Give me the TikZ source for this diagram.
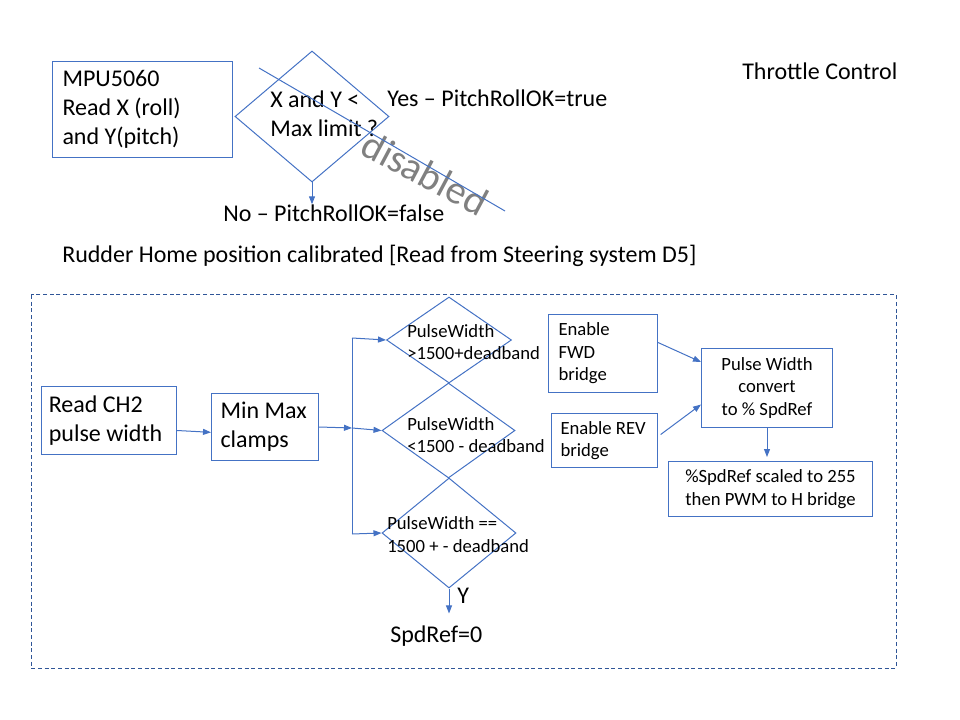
\documentclass[tikz,border=0pt]{standalone}
\usepackage{fontspec}
\setmainfont{Carlito}
\usetikzlibrary{shapes.geometric, arrows.meta}
\definecolor{boxblue}{RGB}{68,114,196}
\definecolor{dashblue}{RGB}{47,85,151}
\tikzstyle{process} = [rectangle, draw=boxblue, line width=0.75pt,
                       inner ysep=0pt, inner xsep=7.5pt, align=flush left,
                       anchor=north west, font=\fontsize{14}{16.8}\selectfont]
\tikzstyle{decision} = [diamond, draw=boxblue, line width=0.75pt, inner sep=0pt]
\tikzstyle{txt} = [inner sep=0pt, anchor=west, align=left,
                   font=\fontsize{18}{21.6}\selectfont]
\tikzstyle{bigtext} = [font=\fontsize{18}{21.6}\selectfont]
\tikzstyle{smalltext} = [font=\fontsize{14}{16.8}\selectfont]
\tikzstyle{line} = [draw=boxblue, line width=0.75pt]
\tikzstyle{arrow} = [line, -{Triangle[length=6pt,width=4.5pt]}]

\begin{document}
\begin{tikzpicture}[x=0.75pt, y=-0.75pt]
        \useasboundingbox (0,0) rectangle (960,720);

        % pitch and roll check
        \node (MPU) [process, bigtext, text width=120pt, minimum height=72pt] at (52,61) {MPU5060\\Read X (roll)\\and Y(pitch)};
        \node (LimitCheck) [decision, minimum width=115.5pt, minimum height=98.25pt] at (312,116.5) {};
        \node (LimitText) [txt] at (270,114) {X and Y <\\Max limit ?};
        \node (YesText) [txt] at (387,98) {Yes – PitchRollOK=true};
        \node (NoText) [txt] at (223,213) {No – PitchRollOK=false};
        \draw [arrow] (LimitCheck.south) -- (LimitCheck.south |- NoText.north);

        \node (Disabled) [rotate=-28, inner sep=0pt, text=gray, font=\fontsize{30}{36}\selectfont] at (425,173) {disabled};
        \draw [line] (259,68) -- (505,211);

        \node (Title) [txt] at (742,71) {Throttle Control};
        \node (Rudder) [txt] at (62,256) {Rudder Home position calibrated [Read from Steering system D5]};

        % throttle loop
        \draw [dashblue, line width=0.75pt, dash pattern=on 3pt off 2pt] (31,295) rectangle (896,668);

        \node (ReadCH2) [process, bigtext, text width=90.25pt, inner xsep=5.5pt, minimum height=51pt] at (41,386) {Read CH2\\pulse width};
        \node (MinMax) [process, bigtext, text width=66.75pt, inner xsep=6.75pt, minimum height=50.25pt] at (211,393) {Min Max\\clamps};
        \draw [arrow] ([yshift=-7.5pt]ReadCH2.east) -- ([yshift=-4pt]MinMax.west);

        \node (PWHigh) [decision, minimum width=93.75pt, minimum height=64.5pt] at (449,340) {};
        \node (PWLow) [decision, minimum width=99.75pt, minimum height=71.25pt] at (448.5,430.5) {};
        \node (PWZero) [decision, minimum width=100.5pt, minimum height=82.5pt] at (449,533) {};
        \node (PWHighText) [txt, smalltext] at (407,342) {PulseWidth\\>1500+deadband};
        \node (PWLowText) [txt, smalltext] at (407,435) {PulseWidth\\<1500 - deadband};
        \node (PWZeroText) [txt, smalltext] at (387,534.5) {PulseWidth ==\\1500 + - deadband};

        \coordinate (Split) at (352,428);
        \coordinate (SplitTop) at (352,338);
        \coordinate (SplitBot) at (352,534);
        \draw [arrow] (MinMax.east) -- (Split);
        \draw [line] (SplitTop) -- (SplitBot);
        \draw [arrow] (SplitTop) -- (PWHigh.west);
        \draw [arrow] (Split) -- (PWLow.west);
        \draw [arrow] (SplitBot) -- (PWZero.west);

        \node (YText) [txt] at (457,596) {Y};
        \node (SpdZero) [txt] at (390,636) {SpdRef=0};
        \draw [arrow, shorten >=9pt] (PWZero.south) -- (PWZero.south |- SpdZero.north);

        \node (EnableFWD) [process, text width=66.75pt, minimum height=58.5pt] at (548,314) {Enable\\FWD\\bridge};
        \node (EnableREV) [process, text width=66pt, inner xsep=6.75pt, minimum height=40.5pt] at (551,413) {Enable REV\\bridge};
        \node (PWConvert) [process, align=flush center, text width=83.25pt, minimum height=59.25pt] at (701,348) {Pulse Width\\convert\\to \% SpdRef};
        \node (PWMOut) [process, align=flush center, text width=138pt, minimum height=41.25pt] at (668,461) {\%SpdRef scaled to 255\\then PWM to H bridge};

        \draw [arrow] ([yshift=8.25pt]EnableFWD.east) -- ([yshift=19.5pt]PWConvert.west);
        \draw [arrow] ([xshift=2pt, yshift=4.5pt]EnableREV.east) -- ([yshift=-12.4pt]PWConvert.west);
        \draw [arrow, shorten >=3pt] (PWConvert.south) -- (PWConvert.south |- PWMOut.north);

    \end{tikzpicture}
\end{document}
